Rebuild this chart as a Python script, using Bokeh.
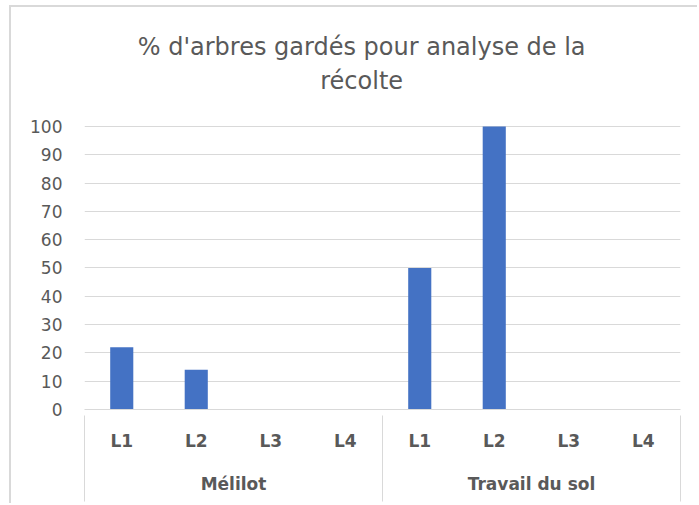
from bokeh.plotting import figure
from bokeh.models import Range1d, LinearAxis, FixedTicker, Label, ColumnDataSource
from bokeh.embed import file_html
from bokeh.resources import INLINE

# ---- data ----
title_lines = ["% d'arbres gardés pour analyse de la", "récolte"]
groups = ["Mélilot", "Travail du sol"]
levels = ["L1", "L2", "L3", "L4"]
values_melilot = [22, 14, 0, 0]
values_travail = [50, 100, 0, 0]
y_ticks = [0, 10, 20, 30, 40, 50, 60, 70, 80, 90, 100]

values = values_melilot + values_travail
n_lv = len(levels)
n_cat = len(groups) * n_lv
centers = [i + 0.5 for i in range(n_cat)]                 # slot centres
sub_labels = {c: levels[i % n_lv] for i, c in enumerate(centers)}
grp_centers = [g * n_lv + n_lv / 2 for g in range(len(groups))]
grp_labels = {c: groups[g] for g, c in enumerate(grp_centers)}
boundaries = [g * n_lv for g in range(len(groups) + 1)]

# ---- layout / style ----
TEXT = "#595959"
GRID = "#d9d9d9"
BAR = "#4472C4"
FONT = "DejaVu Sans"
Y_TOP = 142.0             # head-room above 100 that holds the chart title
TITLE_X = 3.72            # title centre (in category-slot units)
TITLE_Y = [127.9, 115.9]  # title baselines

p = figure(width=688, height=498,
           x_range=Range1d(0, n_cat), y_range=Range1d(0, Y_TOP),
           output_backend="svg", toolbar_location=None,
           min_border_left=73, min_border_right=19, min_border_top=0, min_border_bottom=96,
           styles={"margin-left": "9px", "margin-top": "5px",
                   "border-left": "2px solid #d9d9d9", "border-top": "2px solid #d9d9d9"})
p.outline_line_color = None
p.background_fill_color = "white"
p.border_fill_color = "white"

src = ColumnDataSource(dict(x=centers, top=values))
p.vbar(x="x", top="top", width=0.31, source=src, fill_color=BAR, line_color=None)

# y axis
ya = p.yaxis[0]
ya.ticker = FixedTicker(ticks=y_ticks)
ya.axis_line_color = None
ya.major_tick_line_color = None
ya.minor_tick_line_color = None
ya.major_tick_out = 0
ya.minor_tick_out = 0
ya.major_label_standoff = 22
ya.major_label_text_font = FONT
ya.major_label_text_font_size = "17px"
ya.major_label_text_color = TEXT

p.ygrid.grid_line_color = GRID
p.ygrid.grid_line_width = 1
p.xgrid.grid_line_color = None

# sub-category labels (L1..L4)
xa = p.xaxis[0]
xa.ticker = FixedTicker(ticks=centers)
xa.major_label_overrides = sub_labels
xa.axis_line_color = GRID
xa.major_tick_line_color = None
xa.minor_tick_line_color = None
xa.major_tick_out = 0
xa.minor_tick_out = 0
xa.major_label_standoff = 21
xa.major_label_text_font = FONT
xa.major_label_text_font_style = "bold"
xa.major_label_text_font_size = "17px"
xa.major_label_text_color = TEXT

# group labels
grp_axis = LinearAxis(ticker=FixedTicker(ticks=grp_centers),
                      major_tick_line_color=None, minor_tick_line_color=None,
                      axis_line_color=None, major_tick_out=0, minor_tick_out=0,
                      major_label_standoff=20, major_label_overrides=grp_labels,
                      major_label_text_font=FONT, major_label_text_font_style="bold",
                      major_label_text_font_size="17px", major_label_text_color=TEXT)
p.add_layout(grp_axis, "below")

# box lines of the category axis (ticks drawn back up to the plot bottom)
box_axis = LinearAxis(ticker=FixedTicker(ticks=boundaries),
                      major_tick_out=5, major_tick_in=81,
                      major_tick_line_color=GRID, major_tick_line_width=1,
                      minor_tick_line_color=None, minor_tick_out=0, axis_line_color=None,
                      major_label_standoff=0, major_label_text_font_size="0px",
                      major_label_overrides={b: "" for b in boundaries})
p.add_layout(box_axis, "below")

# title (two centred lines)
for line, ty in zip(title_lines, TITLE_Y):
    p.add_layout(Label(x=TITLE_X, y=ty, text=line, text_align="center",
                       text_baseline="alphabetic", text_font=FONT,
                       text_font_size="24px", text_color=TEXT))

open("out.html", "w").write(file_html(p, INLINE))
